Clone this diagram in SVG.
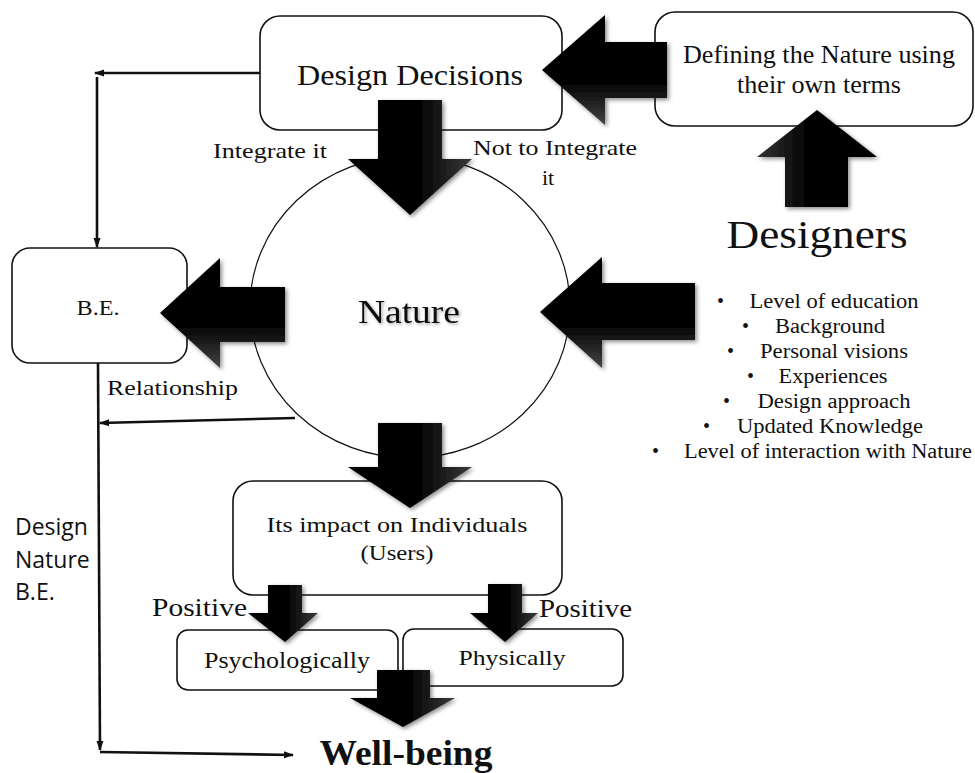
<svg xmlns="http://www.w3.org/2000/svg" width="975" height="773" viewBox="0 0 975 773">
<defs>
<style>
.box{fill:#fff;stroke:#111;stroke-width:1.6}
.t{font-family:"Liberation Serif","Times New Roman",serif;fill:#111}
.s{font-family:"Open Sans","Liberation Sans",Arial,sans-serif;fill:#111}
.ln{fill:none;stroke:#111;stroke-width:2.6}
.big{filter:url(#sh)}
</style>
<linearGradient id="gd" x1="0" y1="0" x2="1" y2="0">
<stop offset="0" stop-color="#000"/><stop offset="0.55" stop-color="#000"/><stop offset="1" stop-color="#3a3a3a"/>
</linearGradient>
<linearGradient id="gl" x1="0" y1="0" x2="0" y2="1">
<stop offset="0" stop-color="#000"/><stop offset="0.6" stop-color="#000"/><stop offset="1" stop-color="#444"/>
</linearGradient>
<linearGradient id="gu" x1="0" y1="0" x2="1" y2="0">
<stop offset="0" stop-color="#333"/><stop offset="0.45" stop-color="#000"/><stop offset="1" stop-color="#000"/>
</linearGradient>
<filter id="sh" x="-20%" y="-20%" width="140%" height="140%">
<feDropShadow dx="2" dy="2" stdDeviation="2" flood-color="#000" flood-opacity="0.45"/>
</filter>
<filter id="tsh" x="-10%" y="-30%" width="120%" height="160%">
<feDropShadow dx="1.5" dy="1.5" stdDeviation="1.5" flood-color="#000" flood-opacity="0.35"/>
</filter>
<marker id="ah" viewBox="0 0 10 8" refX="9" refY="4" markerWidth="10" markerHeight="8" markerUnits="userSpaceOnUse" orient="auto">
<path d="M0,0.5 L10,4 L0,7.5 Z" fill="#111"/>
</marker>
</defs>

<g id="connectors">
<path class="ln" d="M260,73 H95" marker-end="url(#ah)"/>
<path class="ln" d="M97,77 V247" marker-end="url(#ah)"/>
<path class="ln" d="M98,363 L100,750" marker-end="url(#ah)"/>
<path class="ln" d="M100,752 L293,755" marker-end="url(#ah)"/>
<path class="ln" d="M295,418 L100,423" marker-end="url(#ah)"/>
</g>

<g id="nature">
<ellipse cx="410" cy="307" rx="160" ry="151" fill="#fff" stroke="#111" stroke-width="1.2"/>
<text class="t" x="409" y="323" font-size="34" text-anchor="middle" textLength="102" lengthAdjust="spacingAndGlyphs" filter="url(#tsh)">Nature</text>
</g>

<g id="design-decisions">
<rect class="box" x="260" y="16" width="302" height="114" rx="20"/>
<text class="t" x="410" y="85" font-size="30" text-anchor="middle" textLength="226" lengthAdjust="spacingAndGlyphs">Design Decisions</text>
</g>

<g id="defining">
<rect class="box" x="655" y="12" width="318" height="114" rx="20"/>
<text class="t" x="819" y="63" font-size="25" text-anchor="middle" textLength="272" lengthAdjust="spacingAndGlyphs">Defining the Nature using</text>
<text class="t" x="819" y="93" font-size="25" text-anchor="middle" textLength="164" lengthAdjust="spacingAndGlyphs">their own terms</text>
</g>

<g id="be">
<rect class="box" x="12" y="248" width="175" height="115" rx="18"/>
<text class="t" x="98" y="315" font-size="20" text-anchor="middle" textLength="43" lengthAdjust="spacingAndGlyphs">B.E.</text>
</g>

<g id="impact">
<rect class="box" x="233" y="481" width="329" height="114" rx="20"/>
<text class="t" x="397" y="532" font-size="22" text-anchor="middle" textLength="261" lengthAdjust="spacingAndGlyphs">Its impact on Individuals</text>
<text class="t" x="397" y="560" font-size="22" text-anchor="middle" textLength="73" lengthAdjust="spacingAndGlyphs">(Users)</text>
</g>

<g id="psychologically">
<rect class="box" x="177" y="630" width="221" height="60" rx="11"/>
<text class="t" x="287" y="668" font-size="24" text-anchor="middle" textLength="166" lengthAdjust="spacingAndGlyphs">Psychologically</text>
</g>

<g id="physically">
<rect class="box" x="403" y="629" width="220" height="57" rx="11"/>
<text class="t" x="512" y="665" font-size="22" text-anchor="middle" textLength="107" lengthAdjust="spacingAndGlyphs">Physically</text>
</g>

<g id="arrows">
<polygon class="big" fill="url(#gl)" points="542,70 605,15 605,42 667,42 667,98 605,98 605,125"/>
<polygon class="big" fill="url(#gu)" points="817,110 877,157 848,157 848,207 785,207 785,157 757,157"/>
<polygon class="big" fill="url(#gd)" points="378,100 442,100 442,159 472,159 410,215 348,159 378,159"/>
<polygon class="big" fill="url(#gl)" points="160,313 220,258 220,287 285,287 285,342 220,342 220,368"/>
<polygon class="big" fill="url(#gl)" points="540,312 602,257 602,283 695,283 695,340 602,340 602,368"/>
<polygon class="big" fill="url(#gd)" points="378,423 442,423 442,467 472,467 410,508 348,467 378,467"/>
<polygon class="big" fill="url(#gd)" points="268,585 302,585 302,613 318,613 285,642 248,613 268,613"/>
<polygon class="big" fill="url(#gd)" points="488,584 522,584 522,613 538,613 505,642 470,613 488,613"/>
<polygon class="big" fill="url(#gd)" points="377,670 430,670 430,698 455,698 403,727 350,698 377,698"/>
</g>

<g id="labels">
<text class="t" x="213" y="158" font-size="22" textLength="114" lengthAdjust="spacingAndGlyphs">Integrate it</text>
<text class="t" x="473" y="155" font-size="22" textLength="164" lengthAdjust="spacingAndGlyphs">Not to Integrate</text>
<text class="t" x="548" y="185" font-size="22" text-anchor="middle">it</text>
<text class="t" x="107" y="395" font-size="21" textLength="131" lengthAdjust="spacingAndGlyphs">Relationship</text>
<text class="t" x="152" y="616" font-size="25" textLength="95" lengthAdjust="spacingAndGlyphs">Positive</text>
<text class="t" x="539" y="617" font-size="25" textLength="93" lengthAdjust="spacingAndGlyphs">Positive</text>
<text class="s" x="15" y="535" font-size="23">Design</text>
<text class="s" x="15" y="568" font-size="23">Nature</text>
<text class="s" x="15" y="600" font-size="23">B.E.</text>
</g>

<g id="designers">
<text class="t" x="817" y="248" font-size="40" text-anchor="middle" textLength="181" lengthAdjust="spacingAndGlyphs">Designers</text>
<g class="t" font-size="20">
<text x="717" y="308">•</text><text x="834" y="308" text-anchor="middle" textLength="169" lengthAdjust="spacingAndGlyphs">Level of education</text>
<text x="742" y="333">•</text><text x="830" y="333" text-anchor="middle" textLength="110" lengthAdjust="spacingAndGlyphs">Background</text>
<text x="727" y="358">•</text><text x="834" y="358" text-anchor="middle" textLength="148" lengthAdjust="spacingAndGlyphs">Personal visions</text>
<text x="747" y="383">•</text><text x="833" y="383" text-anchor="middle" textLength="109" lengthAdjust="spacingAndGlyphs">Experiences</text>
<text x="723" y="408">•</text><text x="834" y="408" text-anchor="middle" textLength="153" lengthAdjust="spacingAndGlyphs">Design approach</text>
<text x="703" y="433">•</text><text x="830" y="433" text-anchor="middle" textLength="186" lengthAdjust="spacingAndGlyphs">Updated Knowledge</text>
<text x="652" y="458">•</text><text x="684" y="458" textLength="288" lengthAdjust="spacingAndGlyphs">Level of interaction with Nature</text>
</g>
</g>

<g id="well-being">
<text class="t" x="406" y="765" font-size="35" font-weight="bold" text-anchor="middle" textLength="173" lengthAdjust="spacingAndGlyphs">Well-being</text>
</g>
</svg>
